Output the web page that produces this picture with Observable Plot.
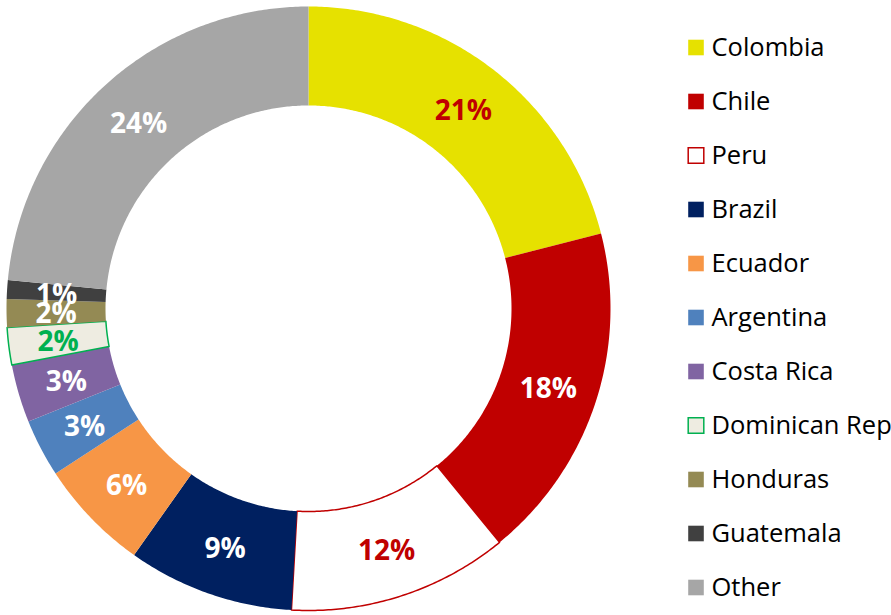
<!DOCTYPE html>
<html>
<head>
<meta charset="utf-8">
<script src="https://cdn.jsdelivr.net/npm/d3@7"></script>
<script src="https://cdn.jsdelivr.net/npm/@observablehq/plot@0.6"></script>
<style>
  html, body { margin: 0; padding: 0; background: #fff; overflow: hidden; }
  #wrap { position: relative; width: 891px; height: 615px; overflow: hidden; }
  #chart { position: absolute; left: 0; top: 0; }
  #legend { position: absolute; left: 680px; top: 0; width: 211px; height: 615px; overflow: hidden; }
</style>
</head>
<body>
<div id="wrap"><div id="chart"></div><div id="legend"></div></div>
<script>
const names = ["Colombia","Chile","Peru","Brazil","Ecuador","Argentina","Costa Rica","Dominican Rep","Honduras","Guatemala","Other"];
const shares = [21.0, 18.1, 11.8, 8.9, 6.0, 3.1, 3.1, 2.0, 1.5, 1.0, 23.5];
const labels = ["21%","18%","12%","9%","6%","3%","3%","2%","2%","1%","24%"];
const fills = ["#E6E100","#C00000","#FFFFFF","#002060","#F79646","#4F81BD","#8064A2","#EEECE1","#948A54","#404040","#A6A6A6"];
const strokes = ["none","none","#C00000","none","none","none","none","#00B050","none","none","none"];
const labelColors = ["#C00000","#FFFFFF","#C00000","#FFFFFF","#FFFFFF","#FFFFFF","#FFFFFF","#00B050","#FFFFFF","#FFFFFF","#FFFFFF"];

const rows = names.map((name, i) => ({name, share: shares[i], label: labels[i], fill: fills[i], stroke: strokes[i], labelColor: labelColors[i]}));
const R_OUT = 302, R_IN = 203;
const arcs = d3.pie().sort(null).value(d => d.share).startAngle(0).endAngle(2 * Math.PI)(rows);

const pts = [];
for (const a of arcs) {
  const n = Math.max(2, Math.ceil((a.endAngle - a.startAngle) / (Math.PI / 360)));
  const ring = [];
  for (let k = 0; k <= n; k++) {
    const t = a.startAngle + (a.endAngle - a.startAngle) * k / n;
    ring.push([R_OUT * Math.sin(t), R_OUT * Math.cos(t)]);
  }
  for (let k = n; k >= 0; k--) {
    const t = a.startAngle + (a.endAngle - a.startAngle) * k / n;
    ring.push([R_IN * Math.sin(t), R_IN * Math.cos(t)]);
  }
  ring.push(ring[0]);
  for (const [x, y] of ring) pts.push({name: a.data.name, x, y, fill: a.data.fill, stroke: a.data.stroke});
}
const cents = arcs.map(a => {
  const m = (a.startAngle + a.endAngle) / 2, r = (R_OUT + R_IN) / 2;
  return {x: r * Math.sin(m), y: r * Math.cos(m), label: a.data.label, color: a.data.labelColor};
});

const chart = Plot.plot({
  width: 616, height: 615,
  margin: 0,
  style: "max-width:none;overflow:visible;background:#fff;font-family:'Open Sans',sans-serif;",
  x: {domain: [-308, 308], axis: null},
  y: {domain: [-307, 308], axis: null},
  color: {type: "identity"},
  marks: [
    Plot.line(pts, {x: "x", y: "y", z: "name", fill: "fill", stroke: "stroke", strokeWidth: 1.5, curve: "linear"}),
    Plot.text(cents, {x: "x", y: "y", text: "label", fill: "color", fontSize: 28, fontWeight: "bold", fontFamily: "Open Sans", dy: 2})
  ]
});
document.getElementById("chart").appendChild(chart);

const legend = Plot.plot({
  width: 260, height: 615,
  margin: 0,
  style: "max-width:none;overflow:visible;background:transparent;font-family:'Open Sans',sans-serif;",
  y: {type: "point", domain: names, range: [45, 588], padding: 0, axis: null},
  color: {type: "identity"},
  marks: [
    Plot.dot(rows, {y: "name", frameAnchor: "left", dx: 15.5, symbol: "square", r: 8.8, fill: "fill", stroke: d => d.stroke === "none" ? "none" : d.stroke, strokeWidth: 1.5}),
    Plot.text(rows, {y: "name", text: "name", frameAnchor: "left", dx: 31, textAnchor: "start", fill: "#000", fontSize: 25.5, fontFamily: "Open Sans"})
  ]
});
document.getElementById("legend").appendChild(legend);
</script>
</body>
</html>
